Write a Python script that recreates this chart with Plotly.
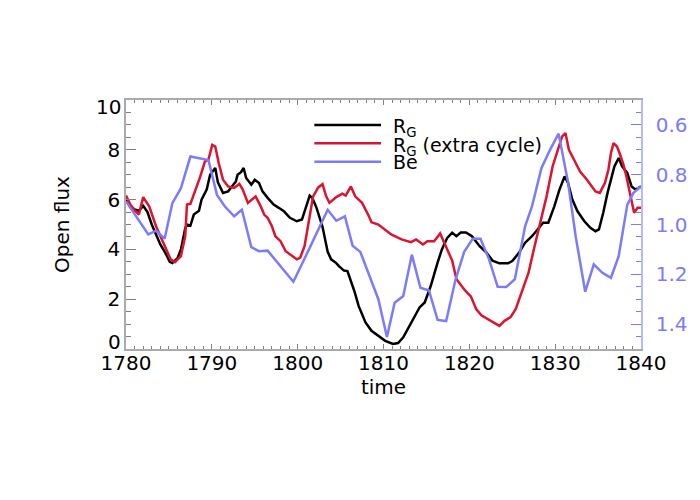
import plotly.graph_objects as go

# ---- data ----
rg_years = [1780.0, 1780.5, 1781.0, 1781.5, 1782.0, 1782.5, 1783.0, 1783.5, 1784.0, 1784.6,
            1785.1, 1785.4, 1786.0, 1786.4, 1786.9, 1787.1, 1787.5, 1787.9, 1788.5, 1788.8,
            1789.4, 1789.8, 1790.2, 1790.4, 1790.7, 1791.3, 1791.9, 1792.5, 1792.8, 1793.0,
            1793.4, 1793.7, 1794.0, 1794.6, 1795.0, 1795.5, 1795.9, 1796.5, 1797.2, 1797.8,
            1798.4, 1799.1, 1799.9, 1800.5, 1801.0, 1801.4, 1801.7, 1802.2, 1802.9, 1803.5,
            1803.9, 1804.5, 1804.8, 1805.4, 1805.8, 1806.6, 1807.1, 1807.9, 1808.6, 1809.4,
            1810.2, 1811.1, 1811.7, 1812.3, 1812.8, 1813.6, 1814.2, 1814.8, 1815.5, 1816.3,
            1816.8, 1817.4, 1818.0, 1818.5, 1819.0, 1819.6, 1820.3, 1821.2, 1822.0, 1822.7,
            1823.5, 1824.5, 1825.0, 1825.8, 1826.5, 1827.3, 1828.0, 1828.6, 1829.2, 1829.9,
            1830.5, 1831.1, 1831.5, 1832.0, 1832.6, 1833.4, 1834.1, 1834.7, 1835.1, 1835.6,
            1836.1, 1836.5, 1836.9, 1837.4, 1837.8, 1838.4, 1838.9, 1839.4, 1840.0]
rg_flux = [6.0, 5.75, 5.6, 5.55, 5.75, 5.5, 5.0, 4.6, 4.2, 3.85,
           3.5, 3.45, 3.65, 4.0, 4.85, 5.0, 4.95, 5.4, 5.55, 6.0,
           6.4, 7.0, 7.2, 7.27, 6.7, 6.27, 6.33, 6.6, 6.73, 7.0,
           7.1, 7.27, 6.87, 6.6, 6.8, 6.67, 6.33, 6.07, 5.8, 5.67,
           5.53, 5.27, 5.13, 5.2, 5.73, 6.16, 6.07, 5.67, 4.9, 3.9,
           3.6, 3.45, 3.33, 3.15, 3.13, 2.33, 1.73, 1.07, 0.73, 0.53,
           0.33, 0.2, 0.24, 0.47, 0.8, 1.33, 1.67, 1.87, 2.53, 3.47,
           4.0, 4.45, 4.67, 4.53, 4.68, 4.68, 4.53, 4.13, 3.87, 3.55,
           3.44, 3.44, 3.53, 3.87, 4.27, 4.53, 4.8, 5.07, 5.07, 5.73,
           6.4, 6.93, 6.67, 6.0, 5.53, 5.13, 4.87, 4.73, 4.8, 5.47,
           6.27, 6.8, 7.33, 7.67, 7.33, 7.07, 6.53, 6.4, 6.53]

rgx_years = [1780.0, 1780.5, 1781.0, 1781.5, 1782.0, 1782.7, 1783.5, 1784.5, 1785.2, 1785.7,
             1786.4, 1786.9, 1787.1, 1787.5, 1788.1, 1788.6, 1789.2, 1789.6, 1790.05, 1790.4,
             1790.8, 1791.3, 1791.9, 1792.6, 1793.2, 1793.6, 1794.2, 1794.6, 1795.1, 1795.7,
             1796.1, 1796.5, 1797.0, 1797.4, 1798.0, 1798.6, 1799.1, 1799.9, 1800.3, 1800.8,
             1801.4, 1801.8, 1802.4, 1802.9, 1803.3, 1803.7, 1804.5, 1805.2, 1805.6, 1806.2,
             1806.7, 1807.5, 1808.3, 1808.6, 1809.4, 1810.2, 1810.9, 1812.1, 1813.2, 1813.8,
             1814.6, 1815.1, 1815.9, 1816.6, 1817.2, 1818.0, 1818.5, 1818.9, 1819.5, 1820.2,
             1820.8, 1821.4, 1822.2, 1823.5, 1824.1, 1824.8, 1825.4, 1826.1, 1826.9, 1827.6,
             1828.4, 1829.0, 1829.7, 1830.3, 1830.8, 1831.2, 1831.6, 1832.2, 1832.9, 1833.7,
             1834.7, 1835.2, 1835.8, 1836.2, 1836.5, 1836.8, 1837.2, 1837.5, 1837.9, 1838.3,
             1838.8, 1839.2, 1839.6, 1840.0]
rgx_flux = [6.16, 5.8, 5.57, 5.4, 6.1, 5.73, 4.93, 4.13, 3.6, 3.49,
            3.73, 4.53, 5.8, 5.83, 6.4, 6.87, 7.53, 7.6, 8.2, 8.13,
            7.47, 6.8, 6.53, 6.47, 6.63, 6.4, 5.87, 6.0, 6.13, 5.73,
            5.4, 5.27, 4.93, 4.53, 4.33, 3.93, 3.8, 3.6, 3.67, 4.13,
            5.33, 6.13, 6.49, 6.62, 6.15, 5.87, 6.1, 6.24, 6.16, 6.53,
            6.13, 5.87, 5.33, 5.09, 5.0, 4.8, 4.6, 4.4, 4.29, 4.4,
            4.2, 4.33, 4.33, 4.64, 4.2, 3.55, 2.8, 2.6, 2.35, 2.1,
            1.6, 1.35, 1.2, 0.93, 1.13, 1.28, 1.6, 2.27, 3.07, 4.13,
            5.33, 6.13, 7.33, 8.0, 8.53, 8.67, 8.0, 7.6, 7.13, 6.8,
            6.33, 6.27, 6.67, 7.2, 7.87, 8.27, 8.13, 7.87, 7.47, 6.93,
            6.07, 5.47, 5.67, 5.67]

be_years = [1780.0, 1782.6, 1783.5, 1784.5, 1785.4, 1786.4, 1787.5, 1788.5, 1789.6, 1790.6,
            1791.5, 1792.6, 1793.5, 1794.6, 1795.5, 1796.5, 1799.5, 1801.4, 1803.5, 1804.5,
            1805.5, 1806.4, 1807.3, 1809.4, 1810.4, 1811.3, 1812.3, 1813.3, 1814.3, 1815.3,
            1816.3, 1817.3, 1818.4, 1819.4, 1820.4, 1821.3, 1822.3, 1823.3, 1824.3, 1825.3,
            1826.5, 1827.3, 1828.4, 1829.4, 1830.4, 1831.5, 1832.4, 1833.5, 1834.5, 1835.5,
            1836.5, 1837.4, 1838.4, 1839.1, 1840.0]
be_vals = [0.907, 1.04, 1.025, 1.057, 0.914, 0.854, 0.727, 0.734, 0.741, 0.881,
           0.927, 0.967, 0.941, 1.091, 1.107, 1.105, 1.23, 1.094, 0.941, 0.985,
           0.967, 1.085, 1.11, 1.30, 1.452, 1.314, 1.287, 1.121, 1.254, 1.265,
           1.383, 1.388, 1.22, 1.11, 1.057, 1.057, 1.14, 1.25, 1.251, 1.22,
           1.007, 0.927, 0.774, 0.7, 0.635, 0.83, 1.05, 1.27, 1.16, 1.194,
           1.214, 1.127, 0.921, 0.874, 0.847]

left_ticks = [2, 4, 6, 8]
right_ticks = [0.6, 0.8, 1.0, 1.2, 1.4]
legend_names = ["R<sub>G</sub>", "R<sub>G</sub> (extra cycle)", "Be"]

BLACK = "#000000"
RED = "#dc1430"
BLUE = "#7b7bfb"
FONT = "DejaVu Sans"

fig = go.Figure()
fig.add_trace(go.Scatter(x=rg_years, y=rg_flux, mode="lines", name=legend_names[0],
                         line=dict(color=BLACK, width=2.5)))
fig.add_trace(go.Scatter(x=rgx_years, y=rgx_flux, mode="lines", name=legend_names[1],
                         line=dict(color=RED, width=2.5)))
fig.add_trace(go.Scatter(x=be_years, y=be_vals, mode="lines", name=legend_names[2],
                         line=dict(color=BLUE, width=2.5), yaxis="y2"))

# the page body adds an 8 px offset, so the figure is 8 px smaller in each direction
fig.update_layout(
    width=692, height=492,
    margin=dict(l=118, r=49, t=92, b=151),
    paper_bgcolor="white", plot_bgcolor="white",
    showlegend=False,
    font=dict(family=FONT, size=20, color="black"),
    xaxis=dict(range=[1780, 1840], tickvals=[1780, 1790, 1800, 1810, 1820, 1830, 1840],
               ticks="inside", ticklen=5, tickcolor="#808080", tickwidth=1,
               minor=dict(dtick=1, tick0=1780, ticks="inside", ticklen=3, tickcolor="#808080"),
               showline=True, linecolor="#aaaaaa", linewidth=1.5, mirror="ticks",
               showgrid=False, zeroline=False, ticklabelstandoff=-5,
               title=dict(text="time", standoff=2, font=dict(size=20))),
    yaxis=dict(range=[0, 10], tickvals=left_ticks,
               ticks="inside", ticklen=10, tickcolor="#808080", tickwidth=1,
               minor=dict(dtick=0.5, tick0=0, ticks="inside", ticklen=5, tickcolor="#808080"),
               showline=True, linecolor="#aaaaaa", linewidth=1.5,
               showgrid=False, zeroline=False, ticklabelstandoff=0,
               title=dict(text="Open flux", standoff=33, font=dict(size=20))),
    yaxis2=dict(range=[1.5, 0.5], overlaying="y", side="right", tickvals=right_ticks,
                tickformat=".1f",
                ticks="inside", ticklen=10, tickcolor=BLUE, tickwidth=1,
                minor=dict(dtick=0.05, tick0=0.5, ticks="inside", ticklen=5, tickcolor=BLUE),
                showline=True, linecolor="#b8b8ff", linewidth=1.5,
                showgrid=False, zeroline=False, ticklabelstandoff=9,
                tickfont=dict(color=BLUE, size=20)),
)

# end labels of the left axis, set slightly inside the frame as in the reference
for val, shift in ((0, 7), (10, -7)):
    fig.add_annotation(xref="paper", yref="y", x=0, y=val, text=str(val), showarrow=False,
                       xanchor="right", yanchor="middle", xshift=-4, yshift=shift,
                       borderpad=0, font=dict(family=FONT, size=20, color="black"))

# legend drawn as lines + labels
leg_colors = [BLACK, RED, BLUE]
leg_y = [0.8996, 0.826, 0.752]
for name, col, yy in zip(legend_names, leg_colors, leg_y):
    fig.add_shape(type="line", xref="paper", yref="paper", x0=0.3657, x1=0.4952, y0=yy, y1=yy,
                  line=dict(color=col, width=2.5))
    fig.add_annotation(xref="paper", yref="paper", x=0.516, y=yy, text=name, showarrow=False,
                       xanchor="left", yanchor="middle", borderpad=0,
                       yshift=-3 if "sub" in name else 0,
                       font=dict(family=FONT, size=19, color="black"))

fig.write_html("out.html")
